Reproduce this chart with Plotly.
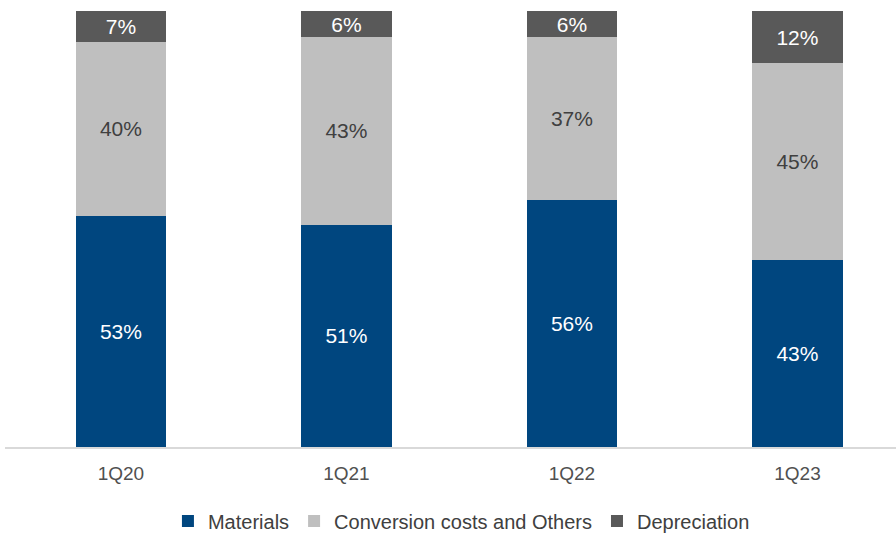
import plotly.graph_objects as go

quarters = ["1Q20", "1Q21", "1Q22", "1Q23"]
materials = [53, 51, 56, 43]
conversion = [40, 43, 37, 45]
depreciation = [7, 6, 6, 12]

series = [
    ("Materials", materials, "#00467F", "white"),
    ("Conversion costs and Others", conversion, "#BFBFBF", "#404040"),
    ("Depreciation", depreciation, "#595959", "white"),
]

fig = go.Figure()
for name, vals, color, txtcolor in series:
    fig.add_trace(go.Bar(
        x=quarters, y=vals, name=name,
        marker=dict(color=color, line=dict(width=0)),
        text=[f"{v}%" for v in vals], texttemplate="%{text}",
        textposition="inside", insidetextanchor="middle", constraintext="none",
        textfont=dict(family="Liberation Sans, Arial", size=21, color=txtcolor),
        hoverinfo="skip",
    ))

# 100% stacked columns: each quarter is scaled to fill the full height
fig.update_layout(
    barmode="stack", barnorm="percent", bargap=0.6,
    width=896, height=533,
    margin=dict(l=5, r=0, t=11, b=86, autoexpand=False),
    plot_bgcolor="white", paper_bgcolor="white",
    font=dict(family="Liberation Sans, Arial", size=19, color="#404040"),
    showlegend=True,
    legend=dict(orientation="h", xref="container", yref="container",
                x=0.515, xanchor="center", y=1 - 521 / 533, yanchor="middle",
                font=dict(size=20, color="#404040"), itemwidth=30,
                traceorder="normal", tracegroupgap=0),
)
fig.update_xaxes(range=[-0.514, 3.437], showline=True, linecolor="#D9D9D9", linewidth=2,
                 ticks="", ticklabelstandoff=8, tickfont=dict(size=19, color="#505050"),
                 showgrid=False)
fig.update_yaxes(range=[0, 100], visible=False, showgrid=False)

fig.write_html("out.html")
